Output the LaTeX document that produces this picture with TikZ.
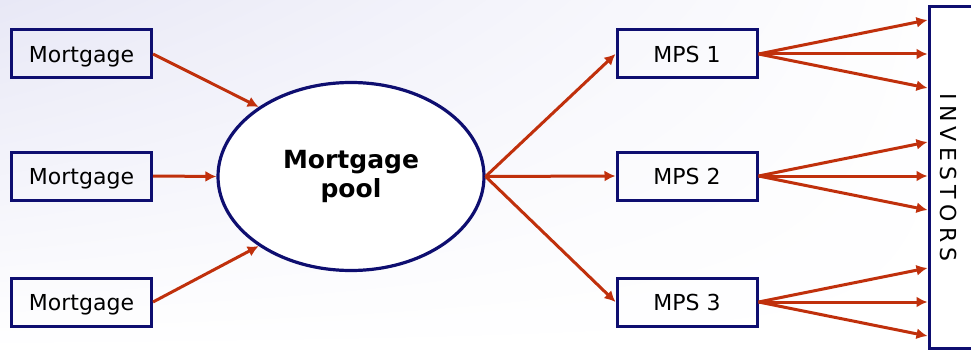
\documentclass[tikz,border=0pt]{standalone}
\usepackage{fontspec}
\setmainfont{DejaVu Sans}
\newfontfamily\spacedfont[LetterSpace=24]{DejaVu Sans}
\usetikzlibrary{shapes.geometric,arrows.meta,calc,shadings}

\definecolor{navy}{HTML}{0E0E70}
\definecolor{arrowred}{HTML}{C0300C}
\definecolor{backdrop}{HTML}{E8E8F6}

\tikzset{
  loanbox/.style={draw=navy, line width=3pt, minimum width=140pt, minimum height=48pt,
    inner sep=0pt, text height=17pt, text depth=0pt, font=\fontsize{22}{26}\selectfont},
  poolshape/.style={ellipse, draw=navy, line width=3.2pt, fill=white, minimum width=266pt,
    minimum height=188pt, inner sep=0pt, align=center, font=\fontsize{25}{29}\selectfont\bfseries},
  flowarrow/.style={draw=arrowred, line width=3pt, -{Latex[length=11pt,width=11pt]}},
}

\begin{document}
\begin{tikzpicture}[x=1pt, y=-1pt]

% Page and background
\useasboundingbox (0,0) rectangle (971,350);
\shade[upper left=backdrop, upper right=white, lower left=white, lower right=white]
    (0,0) rectangle (971,350);

% Mortgages
\node[loanbox] (m1) at (81.5,54) {Mortgage};
\node[loanbox] (m2) at (81.5,176) {Mortgage};
\node[loanbox] (m3) at (81.5,302) {Mortgage};

% Pool
\node[poolshape] (pool) at (351,176.5) {Mortgage\\pool};

% Securities
\node[loanbox] (p1) at (687,54) {MPS 1};
\node[loanbox] (p2) at (687,176) {MPS 2};
\node[loanbox] (p3) at (687,302) {MPS 3};

% Investors (runs off the right edge)
\node[draw=navy, line width=3pt, fill=white, minimum width=48pt, minimum height=341pt,
  inner sep=0pt] (inv) at (953,177.5) {\hspace*{-10pt}\rotatebox{-90}{\fontsize{22}{26}\selectfont\spacedfont INVESTORS}};

% Mortgages into the pool
\draw[flowarrow] (m1.east) -- (pool.143);
\draw[flowarrow] (m2.east) -- (pool.west);
\draw[flowarrow] (m3.east) -- (pool.217);

% Pool out to securities, securities out to investors
\foreach \i in {1,2,3} {
    \draw[flowarrow] (pool.east) -- (p\i.west);
    \foreach \dy in {-34,0,34}
        \draw[flowarrow] (p\i.east) -- ($(inv.west |- p\i.east)+(0,\dy)$);
}

\end{tikzpicture}
\end{document}
